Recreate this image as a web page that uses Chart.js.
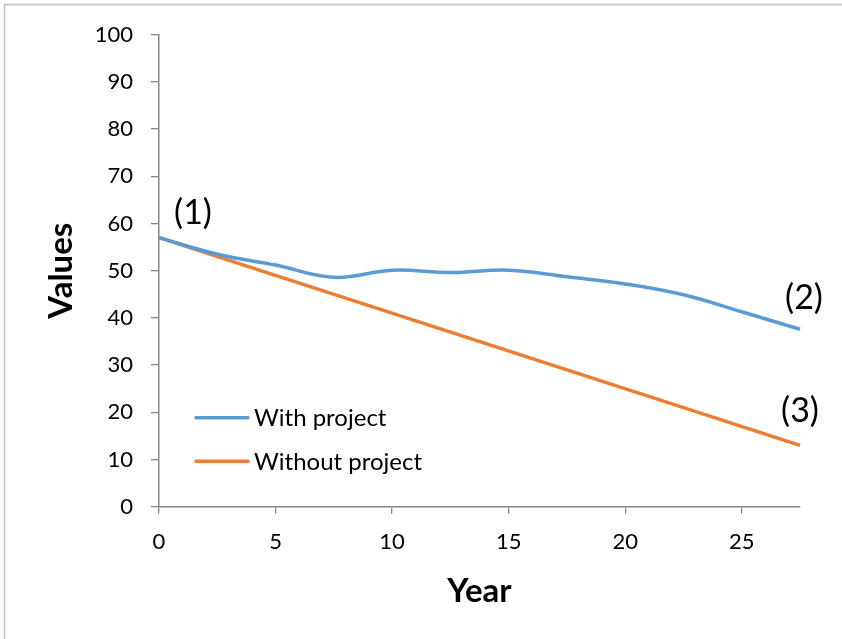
<!DOCTYPE html>
<html>
<head>
<meta charset="utf-8">
<script src="https://cdn.jsdelivr.net/npm/chart.js@4"></script>
<style>
  html, body { margin: 0; padding: 0; background: #fff; }
  #wrap { width: 842px; height: 639px; position: relative; }
</style>
</head>
<body>
<div id="wrap"><canvas id="c" width="842" height="639"></canvas></div>
<script>
// ---- data ----
const seriesNames = ["With project", "Without project"];
const yearsWith = [0, 2.5, 5, 7.5, 10, 12.5, 15, 17.5, 20, 22.5, 25, 27.5];
const valuesWith = [57, 53.5, 51.2, 48.6, 50.1, 49.6, 50.1, 48.7, 47.2, 44.9, 41.3, 37.6];
const yearsWithout = [0, 27.5];
const valuesWithout = [57, 13];
const xTicks = [0, 5, 10, 15, 20, 25];
const yTicks = [0, 10, 20, 30, 40, 50, 60, 70, 80, 90, 100];
const pointLabels = ["(1)", "(2)", "(3)"];
const xTitle = "Year";
const yTitle = "Values";

const FONT = "Lato, 'Open Sans', sans-serif";
const AXIS = "#868686";
const colors = ["#5B9BD5", "#ED7D31"];

const toXY = (xs, ys) => xs.map((x, i) => ({ x: x, y: ys[i] }));

const framePlugin = {
  id: "frame",
  beforeDraw(chart) {
    const ctx = chart.ctx;
    ctx.save();
    ctx.fillStyle = "#fff";
    ctx.fillRect(0, 0, chart.width, chart.height);
    ctx.strokeStyle = "#BFBFBF";
    ctx.lineWidth = 1.5;
    ctx.beginPath();
    ctx.moveTo(4.5, chart.height + 5);
    ctx.lineTo(4.5, 4.5);
    ctx.lineTo(chart.width + 5, 4.5);
    ctx.stroke();
    ctx.restore();
  }
};

const legendPlugin = {
  id: "insideLegend",
  afterDraw(chart) {
    const ctx = chart.ctx;
    const a = chart.chartArea;
    ctx.save();
    ctx.font = "24px " + FONT;
    ctx.textBaseline = "middle";
    ctx.textAlign = "left";
    chart.data.datasets.forEach((ds, i) => {
      const y = a.top + 383 + i * 43.5;
      const x0 = a.left + 37;
      ctx.strokeStyle = ds.borderColor;
      ctx.lineWidth = 3.5;
      ctx.lineCap = "round";
      ctx.beginPath();
      ctx.moveTo(x0, y);
      ctx.lineTo(x0 + 52, y);
      ctx.stroke();
      ctx.fillStyle = "#000";
      ctx.fillText(ds.label, x0 + 58, y + 1);
    });
    ctx.restore();
  }
};

const annotPlugin = {
  id: "pointAnnotations",
  afterDraw(chart) {
    const ctx = chart.ctx;
    const xs = chart.scales.x, ys = chart.scales.y;
    const anchors = [
      { x: yearsWith[0], y: valuesWith[0], dx: 34, dy: -24.5 },
      { x: yearsWith[yearsWith.length - 1], y: valuesWith[valuesWith.length - 1], dx: 4, dy: -31 },
      { x: yearsWithout[yearsWithout.length - 1], y: valuesWithout[valuesWithout.length - 1], dx: 0, dy: -34 }
    ];
    ctx.save();
    ctx.font = "34px " + FONT;
    ctx.fillStyle = "#000";
    ctx.textAlign = "center";
    ctx.textBaseline = "middle";
    anchors.forEach((p, i) => {
      ctx.fillText(pointLabels[i], xs.getPixelForValue(p.x) + p.dx, ys.getPixelForValue(p.y) + p.dy);
    });
    ctx.restore();
  }
};

new Chart(document.getElementById("c"), {
  type: "line",
  data: {
    datasets: [
      {
        label: seriesNames[0],
        data: toXY(yearsWith, valuesWith),
        borderColor: colors[0],
        backgroundColor: colors[0],
        borderWidth: 3.5,
        pointRadius: 0,
        tension: 0.4,
        fill: false,
        clip: false
      },
      {
        label: seriesNames[1],
        data: toXY(yearsWithout, valuesWithout),
        borderColor: colors[1],
        backgroundColor: colors[1],
        borderWidth: 3.5,
        pointRadius: 0,
        tension: 0,
        fill: false,
        clip: false
      }
    ]
  },
  options: {
    responsive: false,
    animation: false,
    devicePixelRatio: 1,
    layout: { padding: { top: 34.7, right: 42, left: 0, bottom: 0 } },
    plugins: {
      legend: { display: false },
      tooltip: { enabled: false }
    },
    scales: {
      x: {
        type: "linear",
        min: 0,
        max: 27.5,
        afterFit(s) { s.height = 132.3; },
        afterBuildTicks(s) { s.ticks = xTicks.map(v => ({ value: v })); },
        ticks: { font: { family: FONT, size: 22 }, color: "#000", padding: 15, includeBounds: false },
        grid: { display: true, drawOnChartArea: false, drawTicks: true, tickLength: 7, color: AXIS, lineWidth: 1.3 },
        border: { display: true, color: AXIS, width: 1.5 },
        title: { display: true, text: xTitle, font: { family: FONT, size: 33, weight: "bold" }, color: "#000", padding: { top: 0, bottom: 28 } }
      },
      y: {
        type: "linear",
        min: 0,
        max: 100,
        afterFit(s) { s.width = 159; },
        afterBuildTicks(s) { s.ticks = yTicks.map(v => ({ value: v })); },
        ticks: { font: { family: FONT, size: 22 }, color: "#000", padding: 18 },
        grid: { display: true, drawOnChartArea: false, drawTicks: true, tickLength: 8, color: AXIS, lineWidth: 1.3 },
        border: { display: true, color: AXIS, width: 1.5 },
        title: { display: true, text: yTitle, font: { family: FONT, size: 33, weight: "bold" }, color: "#000", padding: { top: 42, bottom: 0 } }
      }
    }
  },
  plugins: [framePlugin, legendPlugin, annotPlugin]
});
</script>
</body>
</html>
